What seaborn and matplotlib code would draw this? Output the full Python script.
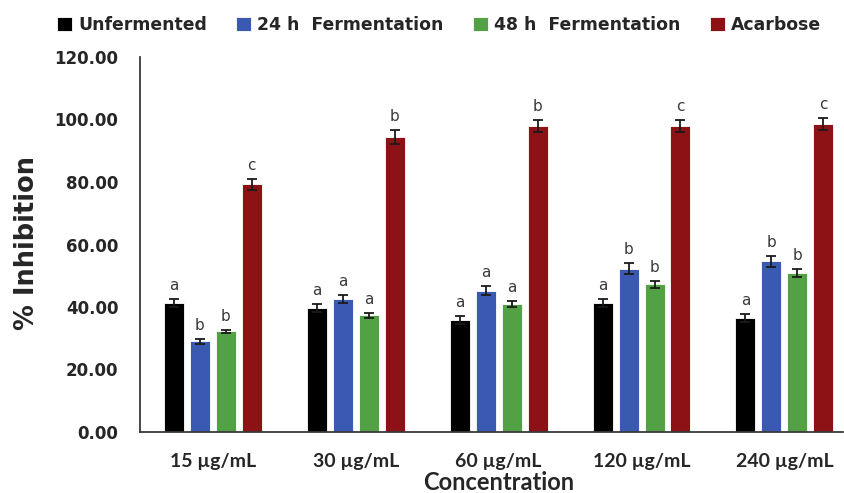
import matplotlib
matplotlib.use("Agg")
import matplotlib.pyplot as plt
import seaborn as sns
import pandas as pd
import numpy as np

# ---- data ----
concentrations = ["15 µg/mL", "30 µg/mL", "60 µg/mL", "120 µg/mL", "240 µg/mL"]
groups = ["Unfermented", "24 h  Fermentation", "48 h  Fermentation", "Acarbose"]

unfermented = [41.2, 39.7, 35.8, 41.2, 36.4]
ferm_24h = [29.0, 42.5, 45.2, 52.3, 54.7]
ferm_48h = [32.2, 37.3, 41.0, 47.3, 51.0]
acarbose = [79.3, 94.5, 97.9, 97.9, 98.5]

err_unfermented = [1.3, 1.3, 1.3, 1.3, 1.3]
err_24h = [0.85, 1.3, 1.5, 1.8, 1.76]
err_48h = [0.6, 0.85, 0.9, 1.07, 1.3]
err_acarbose = [1.7, 2.2, 2.0, 2.0, 2.0]

letters_unfermented = ["a", "a", "a", "a", "a"]
letters_24h = ["b", "a", "a", "b", "b"]
letters_48h = ["b", "a", "a", "b", "b"]
letters_acarbose = ["c", "b", "b", "c", "c"]

yticks = [0, 20, 40, 60, 80, 100, 120]
colors = ["#000000", "#3A59B0", "#53A145", "#8C1215"]

values = [unfermented, ferm_24h, ferm_48h, acarbose]
errors = [err_unfermented, err_24h, err_48h, err_acarbose]
letters = [letters_unfermented, letters_24h, letters_48h, letters_acarbose]

rows = []
for g, vals in zip(groups, values):
    for c, v in zip(concentrations, vals):
        rows.append({"Concentration": c, "Group": g, "Inhibition": v})
df = pd.DataFrame(rows)

sns.set_style("white")
plt.rcParams["font.family"] = ["DejaVu Sans"]

fig = plt.figure(figsize=(8.45, 4.93), dpi=100)
W, H = 845, 493
ax = fig.add_axes([140 / W, (H - 432) / H, 703 / W, 375 / H])

sns.barplot(data=df, x="Concentration", y="Inhibition", hue="Group",
            order=concentrations, hue_order=groups, palette=colors,
            saturation=1, width=0.727, gap=0.23, errorbar=None,
            edgecolor="white", linewidth=0.6, ax=ax, legend=True)

# error bars and significance letters
for cont, errs, lets in zip(ax.containers, errors, letters):
    for bar, e, l in zip(cont.patches if hasattr(cont, "patches") else cont, errs, lets):
        xc = bar.get_x() + bar.get_width() / 2
        h = bar.get_height()
        ax.errorbar(xc, h, yerr=e, color="#1a1a1a", capsize=3.4,
                    elinewidth=1.3, capthick=1.3, zorder=5)
        ax.annotate(l, (xc, h + e), xytext=(0, 9.5), textcoords="offset points",
                    ha="center", va="center", fontsize=11, color="#3a3a3a")

ax.set_ylim(0, 120)
ax.set_xlim(-0.51, 4.41)
ax.set_yticks(yticks)
ax.set_yticklabels([f"{t:.2f}" for t in yticks], fontsize=12, fontweight="bold")
ax.set_xticks(range(len(concentrations)))
ax.set_xticklabels(concentrations, fontsize=14, fontweight="bold", family=["Lato", "DejaVu Sans"])
ax.tick_params(axis="y", length=0, pad=15.5)
ax.tick_params(axis="x", length=0, pad=15)
ax.set_xlabel("")
ax.set_ylabel("")
for s in ["top", "right"]:
    ax.spines[s].set_visible(False)
for s in ["left", "bottom"]:
    ax.spines[s].set_color("#3a3a3a")
    ax.spines[s].set_linewidth(1.3)

fig.text(27 / W, (H - 243) / H, "% Inhibition", rotation=90, ha="center", va="center",
         fontsize=18.5, fontweight="bold")
fig.text(499 / W, (H - 482) / H, "Concentration", ha="center", va="center",
         fontsize=17, fontweight="bold", family=["Lato", "DejaVu Sans"])

handles, labels = ax.get_legend_handles_labels()
ax.get_legend().remove()
fig.legend(handles, labels, loc="center", bbox_to_anchor=(439 / W, 1 - 25 / H),
           ncol=4, frameon=False, prop={"weight": "bold", "size": 12.4},
           handlelength=0.87, handleheight=0.87, handletextpad=0.35,
           columnspacing=1.7, borderaxespad=0)

fig.savefig("out.png", dpi=100)
